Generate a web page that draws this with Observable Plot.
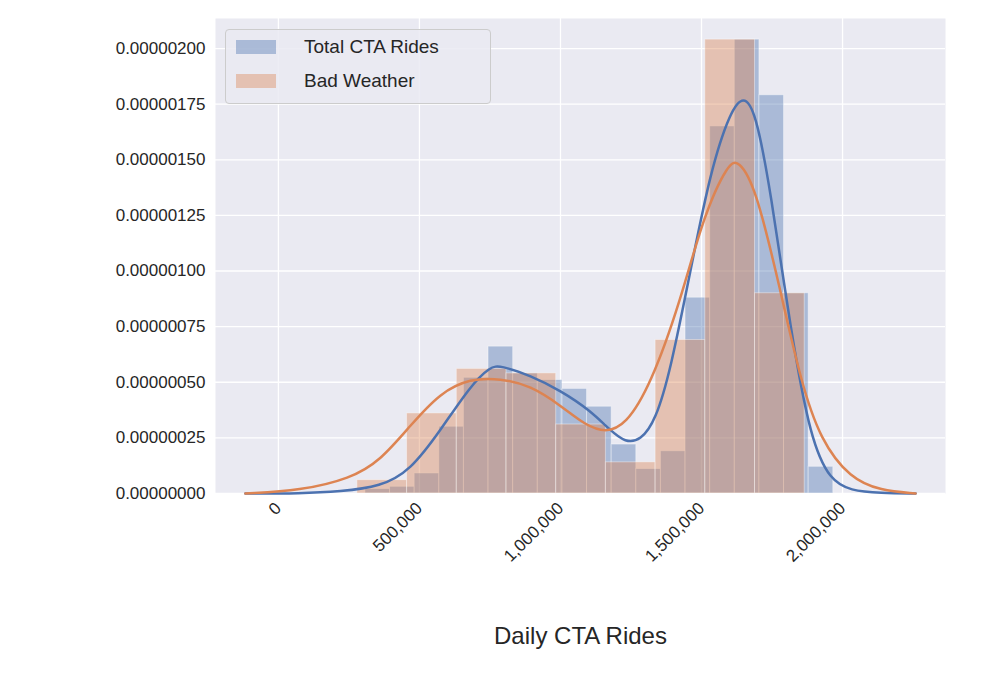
<!DOCTYPE html>
<html><head><meta charset="utf-8">
<script src="https://cdn.jsdelivr.net/npm/d3@7"></script>
<script src="https://cdn.jsdelivr.net/npm/@observablehq/plot@0.6"></script>
<style>
body{margin:0;background:#fff;font-family:"Liberation Sans",Arial,sans-serif;}
#wrap{position:relative;width:990px;height:674px;}
#legend{position:absolute;left:225px;top:29px;width:264px;height:73px;background:rgba(234,234,242,0.85);border:1px solid #cccccc;border-radius:4px;font-size:19px;color:#262626;}
.row{position:absolute;left:10px;display:flex;align-items:center;}
.sw{width:40px;height:14px;margin-right:28px;}
</style></head><body>
<div id="wrap"><div id="chart"></div>
<div id="legend">
<div class="row" style="top:6px"><div class="sw" style="background:rgba(76,114,176,0.4)"></div>Total CTA Rides</div>
<div class="row" style="top:40px"><div class="sw" style="background:rgba(221,132,82,0.4)"></div>Bad Weather</div>
</div></div>
<script>
const totalBinStart = 308500, totalBinWidth = 87300;
const totalHeights = [0.02,0.03,0.09,0.30,0.52,0.66,0.54,0.51,0.47,0.39,0.22,0.11,0.19,0.88,1.65,2.04,1.79,0.90,0.12];
const badBinStart = 280000, badBinWidth = 176200;
const badHeights = [0.06,0.36,0.56,0.54,0.31,0.14,0.69,2.04,0.90];
const totalKdeX = [-117e3,78e3,220e3,362e3,468e3,574e3,681e3,752e3,787e3,894e3,1000e3,1106e3,1177e3,1230e3,1284e3,1337e3,1390e3,1461e3,1532e3,1603e3,1649e3,1691e3,1745e3,1816e3,1887e3,1957e3,2028e3,2135e3,2259e3];
const totalKdeY = [0,0,0.009,0.031,0.103,0.283,0.485,0.571,0.575,0.530,0.463,0.373,0.283,0.229,0.238,0.328,0.553,1.002,1.452,1.721,1.789,1.721,1.362,0.733,0.238,0.058,0.013,0.002,0];
const badKdeX = [-117e3,78e3,255e3,362e3,468e3,574e3,681e3,787e3,894e3,1000e3,1089e3,1160e3,1230e3,1319e3,1426e3,1507e3,1596e3,1631e3,1691e3,1780e3,1851e3,1922e3,2028e3,2135e3,2259e3];
const badKdeY = [0,0.013,0.067,0.148,0.306,0.454,0.517,0.517,0.485,0.396,0.306,0.274,0.306,0.485,0.867,1.249,1.488,1.497,1.384,0.912,0.508,0.238,0.067,0.013,0];
const xTicks = [0,500000,1000000,1500000,2000000];
const yTicks = [0,0.25,0.5,0.75,1,1.25,1.5,1.75,2].map(v=>v*1e-6);

const bins = (s,w,h)=>h.map((v,i)=>({x1:s+i*w,x2:s+(i+1)*w,y:v*1e-6}));
const totalBins = bins(totalBinStart,totalBinWidth,totalHeights);
const badBins = bins(badBinStart,badBinWidth,badHeights);
const tk = totalKdeX.map((x,i)=>({x,y:totalKdeY[i]*1e-6}));
const bk = badKdeX.map((x,i)=>({x,y:badKdeY[i]*1e-6}));
const fmt = d3.format(",");
const chart = Plot.plot({
  width:990,height:674,marginLeft:215,marginRight:45,marginTop:18,marginBottom:181,
  style:{fontSize:"17px",fontFamily:"Liberation Sans, Arial, sans-serif",color:"#262626"},
  x:{domain:[-223000,2365000],ticks:xTicks,tickFormat:fmt,tickRotate:-45,label:null},
  y:{domain:[0,2.135e-6],ticks:yTicks,tickFormat:d=>d.toFixed(8),label:null},
  marks:[
    Plot.frame({fill:"#eaeaf2",stroke:null}),
    Plot.gridX(xTicks,{stroke:"white",strokeOpacity:1,strokeWidth:1.3}),
    Plot.gridY(yTicks,{stroke:"white",strokeOpacity:1,strokeWidth:1.3}),
    Plot.rectY(totalBins,{x1:"x1",x2:"x2",y:"y",fill:"#4c72b0",fillOpacity:0.4,stroke:"white",strokeOpacity:0.4,strokeWidth:1}),
    Plot.rectY(badBins,{x1:"x1",x2:"x2",y:"y",fill:"#dd8452",fillOpacity:0.4,stroke:"white",strokeOpacity:0.4,strokeWidth:1}),
    Plot.line(tk,{x:"x",y:"y",stroke:"#4c72b0",strokeWidth:2.5,curve:"basis"}),
    Plot.line(bk,{x:"x",y:"y",stroke:"#dd8452",strokeWidth:2.5,curve:"basis"}),
    Plot.axisX(xTicks,{tickFormat:fmt,tickRotate:-45,tickSize:0,tickPadding:12,fontSize:17,fill:"#262626"}),
    Plot.axisY(yTicks,{tickFormat:d=>d.toFixed(8),tickSize:0,tickPadding:10,fontSize:17,fill:"#262626"}),
    Plot.text(["Daily CTA Rides"],{frameAnchor:"bottom",dy:150,fontSize:24,fill:"#262626"})
  ]
});
document.getElementById("chart").appendChild(chart);
</script></body></html>
